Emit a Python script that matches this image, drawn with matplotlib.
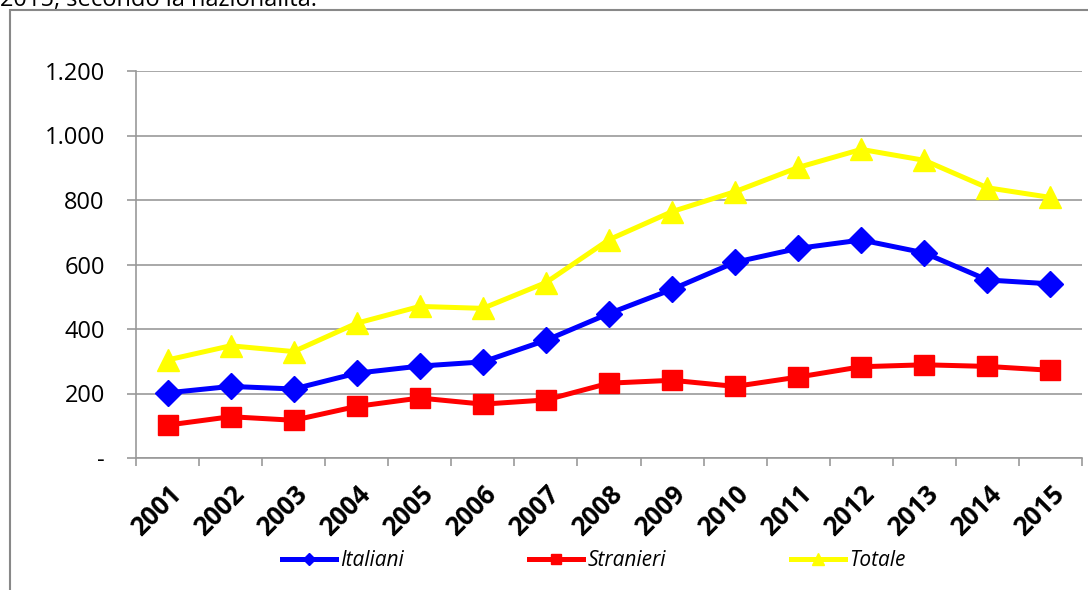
import matplotlib
matplotlib.use("Agg")
import matplotlib.pyplot as plt
from matplotlib.lines import Line2D
from matplotlib.patches import Rectangle
from matplotlib.ticker import FuncFormatter

years = ["2001", "2002", "2003", "2004", "2005", "2006", "2007", "2008",
         "2009", "2010", "2011", "2012", "2013", "2014", "2015"]
italiani = [202, 222, 214, 263, 285, 298, 365, 448, 523, 607, 650, 676, 636, 552, 540]
stranieri = [102, 128, 117, 160, 186, 167, 180, 232, 241, 222, 251, 283, 289, 284, 272]
totale = [304, 348, 330, 418, 470, 464, 544, 677, 764, 826, 901, 957, 923, 838, 808]
yticks = [0, 200, 400, 600, 800, 1000, 1200]

plt.rcParams['font.family'] = ['Open Sans', 'DejaVu Sans']

fig = plt.figure(figsize=(10.88, 5.9), dpi=100)
ax = fig.add_axes([136/1088, 1-458/590, (1082-136)/1088, (458-71)/590])

x = list(range(len(years)))
ax.plot(x, italiani, color='#0000FF', lw=3.6, marker='D', ms=13, zorder=3)
ax.plot(x, stranieri, color='#FF0000', lw=3.6, marker='s', ms=14, zorder=3)
ax.plot(x, totale, color='#FFFF00', lw=3.6, marker='^', ms=16, zorder=3)

ax.set_xlim(-0.5, len(years)-0.5)
ax.set_ylim(0, 1200)
ax.set_yticks(yticks)
ax.yaxis.set_major_formatter(FuncFormatter(lambda v, p: '-' if v == 0 else f"{int(v):,}".replace(',', '.')))
ax.grid(axis='y', color='#999999', lw=1.2)
ax.set_axisbelow(True)

ax.set_xticks([i - 0.5 for i in range(len(years)+1)])
ax.set_xticklabels([])
ax.set_xticks(x, minor=True)
ax.set_xticklabels(years, minor=True, rotation=45, ha='right', rotation_mode='anchor',
                   fontsize=18.5, fontweight='bold')
ax.tick_params(axis='x', which='minor', length=0, pad=16)
ax.tick_params(axis='x', which='major', length=6, color='#999999', width=1.2)
ax.tick_params(axis='y', length=6.5, color='#999999', width=1.2, labelsize=17, pad=16)

for s in ['top', 'right']:
    ax.spines[s].set_visible(False)
for s in ['left', 'bottom']:
    ax.spines[s].set_color('#999999')
    ax.spines[s].set_linewidth(1.2)

handles = [
    Line2D([], [], color='#0000FF', lw=3.6, marker='D', ms=6),
    Line2D([], [], color='#FF0000', lw=3.6, marker='s', ms=7),
    Line2D([], [], color='#FFFF00', lw=3.6, marker='^', ms=8),
]
leg = fig.legend(handles, ['Italiani', 'Stranieri', 'Totale'], loc='center',
                 bbox_to_anchor=(594/1088, 1-561/590), ncol=3, frameon=False,
                 prop={'style': 'italic', 'size': 15}, handlelength=2.6,
                 columnspacing=6.0, handletextpad=0.2)

fig.patches.append(Rectangle((10/1088, -0.1), 1.2, 1-10/590+0.1, transform=fig.transFigure,
                             fill=False, edgecolor='#888888', lw=1.5))
fig.text(0.0, 1-6/590, "2015, secondo la nazionalità.", fontsize=17, va='baseline', ha='left')

fig.savefig("out.png", dpi=100)
